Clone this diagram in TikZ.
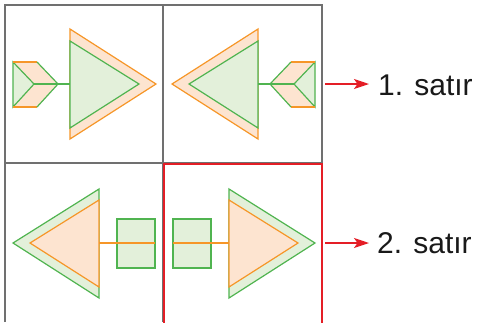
\documentclass[tikz,border=0pt]{standalone}
\usepackage{fontspec}
\setmainfont{Liberation Sans}
\usetikzlibrary{arrows.meta}
\definecolor{gridgray}{RGB}{112,112,112}
\definecolor{boxred}{RGB}{228,30,38}
\definecolor{orline}{RGB}{246,150,40}
\definecolor{orfill}{RGB}{253,228,208}
\definecolor{grline}{RGB}{80,180,80}
\definecolor{grfill}{RGB}{227,240,218}
\tikzset{
  gridline/.style={draw=gridgray,line width=1.5pt},
  redbox/.style={draw=boxred,line width=1.6pt},
  orshape/.style={draw=orline,fill=orfill,line width=1.2pt,line join=miter},
  grshape/.style={draw=grline,fill=grfill,line width=1.2pt,line join=miter},
  orstroke/.style={draw=orline,line width=1.2pt},
  grstroke/.style={draw=grline,line width=1.2pt},
  redarrow/.style={draw=boxred,line width=1.3pt,-{Stealth[length=15pt,width=10pt,inset=3.5pt]}},
  label/.style={font=\fontsize{30}{31}\selectfont,text=black!90,inner sep=0pt,anchor=base west}
}
\newcommand\rowonecell{%
  \path[orshape] (70,29) -- (156,84) -- (70,139) -- cycle;
  \path[grshape] (70,41) -- (139,84) -- (70,128) -- cycle;
  \path[fill=orfill] (13,62) -- (37,62) -- (58,84) -- (37,107) -- (13,107) -- cycle;
  \path[grshape] (13,62) -- (34,84) -- (13,107) -- cycle;
  \draw[orstroke] (13,62) -- (37,62);
  \draw[orstroke] (13,107) -- (37,107);
  \draw[grstroke] (37,62) -- (58,84) -- (37,107);
  \draw[grstroke] (34,84) -- (70,84);
}
\newcommand\rowtwocell{%
  \path[grshape] (99,189) -- (13,243) -- (99,298) -- cycle;
  \path[orshape] (99,200) -- (30,243) -- (99,287) -- cycle;
  \path[grshape] (117,219) rectangle (155,268);
  \draw[orstroke] (99,243) -- (155,243);
}
\begin{document}
\begin{tikzpicture}[x=1pt,y=-1pt]
\useasboundingbox (0,0) rectangle (478,322);
% grid
\draw[gridline] (5,322) -- (5,5) -- (322,5) -- (322,164);
\draw[gridline] (163,5) -- (163,322);
\draw[gridline] (5,163) -- (322,163);
% cells
\rowonecell
\begin{scope}[xshift=328pt,xscale=-1]
\rowonecell
\end{scope}
\rowtwocell
\begin{scope}[xshift=328pt,xscale=-1]
\rowtwocell
\end{scope}
% red box
\draw[redbox] (164,323) -- (164,164) -- (322,164) -- (322,323);
% labels
\node[label] (t1) at (378,95) {1. satır};
\node[label] (t2) at (377,253) {2. satır};
\coordinate (s1) at (325,84);
\coordinate (s2) at (325,243);
\draw[redarrow] (s1) -- ([xshift=-9pt]s1 -| t1.west);
\draw[redarrow] (s2) -- ([xshift=-8pt]s2 -| t2.west);
\end{tikzpicture}
\end{document}
